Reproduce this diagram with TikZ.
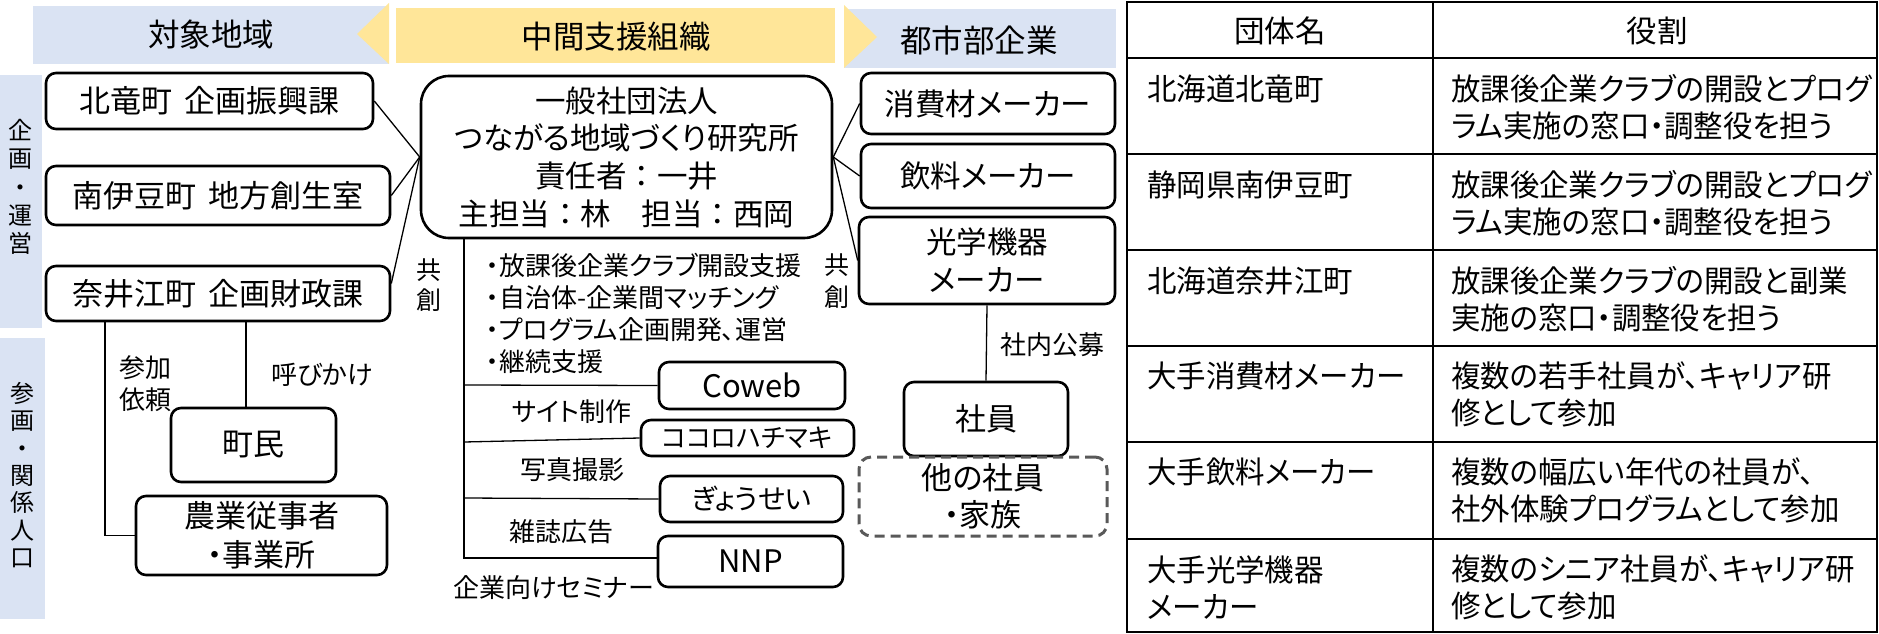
\documentclass[tikz,border=0pt]{standalone}
\usepackage{fontspec}
\setmainfont{Noto Sans CJK JP}[RawFeature=+palt]
\newfontfamily\jpfull{Noto Sans CJK JP}
\newfontfamily\jpnarrow{Noto Sans CJK JP}[RawFeature=+palt, FakeStretch=0.965]
\usetikzlibrary{calc}
\definecolor{bannerblue}{HTML}{DAE3F3}
\definecolor{banneryellow}{HTML}{FFE699}
\definecolor{dashgray}{HTML}{595959}
\begin{document}
\begin{tikzpicture}[x=1pt,y=-1pt,
  bx/.style={draw, line width=2.6pt, rounded corners=10pt, inner sep=0pt, align=center, font=\fontsize{31}{38}\selectfont},
  lbl/.style={inner sep=0pt, align=center, font=\fontsize{26}{32}\selectfont},
  ban/.style={inner sep=0pt, font=\fontsize{31.5}{36}\selectfont},
  vtx/.style={inner sep=0pt, align=center},
  cn/.style={line width=1.3pt},
  tb/.style={line width=2.8pt},
  cell/.style={inner sep=0pt, anchor=west, align=left, font=\jpnarrow\fontsize{30.5}{37}\selectfont},
  hcell/.style={inner sep=0pt, font=\fontsize{30.5}{37}\selectfont}]
\useasboundingbox (0,0) rectangle (1879,634);

% banners
\fill[bannerblue] (33,6) rectangle (389,64);
\fill[banneryellow] (389,3) -- (357,34) -- (389,64) -- cycle;
\fill[banneryellow] (396,8) rectangle (835,63);
\fill[bannerblue] (844,9) rectangle (1116,68);
\fill[banneryellow] (844,5) -- (877,37) -- (844,68) -- cycle;
\node[ban] (t1) at (211,35) {対象地域};
\node[ban] (t2) at (616,37) {中間支援組織};
\node[ban] (t3) at (979,40) {都市部企業};

% side strips
\fill[bannerblue] (0,75) rectangle (42,328);
\fill[bannerblue] (0,338) rectangle (45,619);
\node[vtx, font=\fontsize{24}{28.2}\selectfont] (sA) at (21,187) {企\\画\\・\\運\\営};
\node[vtx, font=\fontsize{24}{27.4}\selectfont] (sB) at (22,475) {参\\画\\・\\関\\係\\人\\口};

% left boxes
\node[bx, minimum width=327pt, minimum height=56pt] (b1) at (209.5,101) {北竜町\hspace{12pt}企画振興課};
\node[bx, minimum width=344pt, minimum height=59pt] (b2) at (218,195.5) {南伊豆町\hspace{12pt}地方創生室};
\node[bx, minimum width=344pt, minimum height=55pt] (b3) at (218,293.5) {奈井江町\hspace{12pt}企画財政課};
\node[bx, minimum width=165pt, minimum height=74pt] (chomin) at (253.5,445) {町民};
\node[bx, minimum width=251pt, minimum height=79pt, font=\fontsize{31}{39}\selectfont] (nogyo) at (261.5,535.5) {農業従事者\\・事業所};

% center box
\node[bx, rounded corners=28pt, minimum width=411pt, minimum height=162pt, font=\fontsize{30.5}{37.7}\selectfont] (c) at (626.5,157)
  {一般社団法人\\つながる地域づくり研究所\\{\jpfull 責任者：一井}\\{\jpfull 主担当：林　担当：西岡}};

% right boxes
\node[bx, minimum width=254pt, minimum height=61pt, font=\fontsize{30.5}{38}\selectfont] (r1) at (988,103.5) {消費材メーカー};
\node[bx, minimum width=254pt, minimum height=64pt, font=\fontsize{30.5}{38}\selectfont] (r2) at (988,176) {飲料メーカー};
\node[bx, minimum width=256pt, minimum height=87pt, font=\fontsize{30.5}{38}\selectfont] (r3) at (987,260.5) {光学機器\\メーカー};
\node[bx, minimum width=164pt, minimum height=74pt] (shain) at (986,419) {社員};
\node[bx, draw=dashgray, dash pattern=on 10pt off 6pt, line width=3pt, rounded corners=12pt, minimum width=248pt, minimum height=79pt, font=\fontsize{31}{37}\selectfont] (hoka) at (983,496.5) {他の社員\\・家族};

% partner boxes
\node[bx, minimum width=186pt, minimum height=47pt] (coweb) at (752,385.5) {Coweb};
\node[bx, minimum width=213pt, minimum height=36pt, font=\fontsize{26}{30}\selectfont] (kokoro) at (747.5,438) {ココロハチマキ};
\node[bx, minimum width=183pt, minimum height=46pt, font=\fontsize{28}{32}\selectfont] (gyosei) at (751.5,499) {ぎょうせい};
\node[bx, minimum width=185pt, minimum height=51pt] (nnp) at (750.5,561.5) {NNP};

% labels
\node[lbl, align=left] (sanka) at (145,384) {参加\\依頼};
\node[lbl] (yobi) at (322,375) {呼びかけ};
\node[lbl, font=\fontsize{25}{30}\selectfont] (kyo1) at (429,285) {共\\創};
\node[lbl, font=\fontsize{25}{32}\selectfont] (kyo2) at (837,281) {共\\創};
\node[lbl, anchor=west, align=left] (bul) at (486,313) {・放課後企業クラブ開設支援\\・自治体-企業間マッチング\\・プログラム企画開発、運営\\・継続支援};
\node[lbl] (site) at (572,412) {サイト制作};
\node[lbl] (photo) at (572,470) {写真撮影};
\node[lbl] (zasshi) at (561,532) {雑誌広告};
\node[lbl, anchor=east] (seminar) at (654,588) {企業向けセミナー};
\node[lbl] (shanai) at (1052,345) {社内公募};

% connectors
\draw[cn] (b1.east) -- (c.west);
\draw[cn] (b2.east) -- (c.west);
\draw[cn] ($(b3.east)+(0,-10)$) -- (c.west);
\draw[cn] (c.east) -- (r1.west);
\draw[cn] (c.east) -- (r2.west);
\draw[cn] (c.east) -- (r3.west);
\coordinate (xa) at (105,0);
\coordinate (xb) at (246,0);
\draw[cn] (b3.south -| xa) |- (nogyo.west);
\draw[cn] (b3.south -| xb) -- (chomin.north -| xb);
\draw[cn] (r3.south) -- (shain.north);
\coordinate (v1) at (464,385);
\coordinate (v2) at (464,442);
\coordinate (v3) at (464,498);
\coordinate (v4) at (464,558);
\draw[cn] (c.south -| v1) -- (v4) -- (v4 -| nnp.west);
\draw[cn] (v1) -- (coweb.west);
\draw[cn] (v2) -- (kokoro.west);
\draw[cn] (v3) -- (gyosei.west);

% table
\draw[tb] (1127,2) rectangle (1877,632);
\draw[tb] (1433,2) -- (1433,632);
\foreach \yy in {58,154,250,346,442,539} \draw[tb] (1127,\yy) -- (1877,\yy);
\node[hcell] (h1) at (1280,31) {団体名};
\node[hcell] (h2) at (1657,31) {役割};
\node[cell] (n1) at (1147,89) {北海道北竜町};
\node[cell] (n2) at (1147,185) {静岡県南伊豆町};
\node[cell] (n3) at (1147,281) {北海道奈井江町};
\node[cell] (n4) at (1147,376) {大手消費材メーカー};
\node[cell] (n5) at (1147,472) {大手飲料メーカー};
\node[cell] (n6) at (1147,587.5) {大手光学機器\\メーカー};
\node[cell] (d1) at (1451,107) {放課後企業クラブの開設とプログ\\ラム実施の窓口・調整役を担う};
\node[cell] (d2) at (1451,203) {放課後企業クラブの開設とプログ\\ラム実施の窓口・調整役を担う};
\node[cell] (d3) at (1451,299) {放課後企業クラブの開設と副業\\実施の窓口・調整役を担う};
\node[cell] (d4) at (1451,394.5) {複数の若手社員が、キャリア研\\修として参加};
\node[cell] (d5) at (1451,490.5) {複数の幅広い年代の社員が、\\社外体験プログラムとして参加};
\node[cell] (d6) at (1451,587.5) {複数のシニア社員が、キャリア研\\修として参加};
\end{tikzpicture}
\end{document}
